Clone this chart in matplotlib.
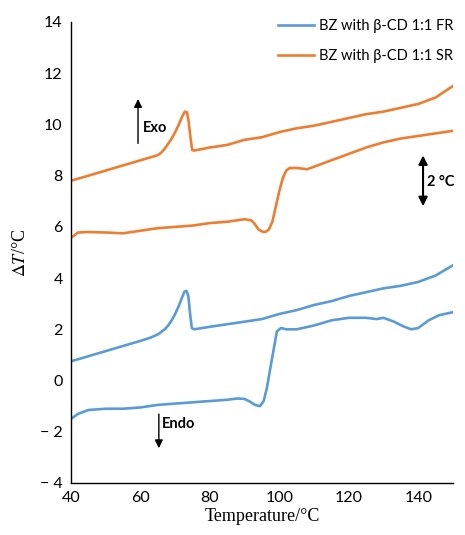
import matplotlib
matplotlib.use('Agg')
import matplotlib.pyplot as plt
import numpy as np

plt.rcParams['mathtext.fontset'] = 'stix'

# Data (temperature in degC, delta T in degC)
fr_upper_x = [40, 45, 50, 55, 60, 63, 65, 67, 68, 69, 70, 71, 72, 72.7, 73.3, 73.8, 74.3, 74.8,
              75.5, 80, 85, 90, 95, 100, 105, 110, 115, 120, 125, 130, 135, 140, 145, 150]
fr_upper_y = [0.75, 0.95, 1.15, 1.35, 1.55, 1.68, 1.8, 2.0, 2.15, 2.35, 2.6, 2.9, 3.25, 3.48,
              3.5, 3.3, 2.6, 2.05, 2.0, 2.1, 2.2, 2.3, 2.4, 2.6, 2.75, 2.95, 3.1, 3.3, 3.45, 3.6,
              3.7, 3.85, 4.1, 4.5]

fr_lower_x = [40, 42, 45, 50, 55, 60, 65, 70, 75, 80, 85, 88, 90, 91.5, 93, 94.4, 95.5, 96.4, 97.9,
              99.3, 100.5, 102, 105, 110, 115, 120, 125, 128, 130, 133, 136, 138, 140, 143, 146, 150]
fr_lower_y = [-1.5, -1.3, -1.15, -1.1, -1.1, -1.05, -0.95, -0.9, -0.85, -0.8, -0.75, -0.7, -0.72,
              -0.82, -0.95, -1.0, -0.8, -0.3, 0.86, 1.92, 2.05, 2.0, 2.0, 2.15, 2.35, 2.45, 2.45,
              2.4, 2.45, 2.3, 2.1, 2.0, 2.05, 2.35, 2.55, 2.67]

sr_upper_x = [40, 45, 50, 55, 60, 63, 65, 66, 67, 68, 69, 70, 71, 72, 72.8, 73.4, 73.9, 74.4,
              74.9, 75.5, 80, 85, 90, 95, 100, 105, 110, 115, 120, 125, 130, 135, 140, 145, 150]
sr_upper_y = [7.8, 8.0, 8.2, 8.4, 8.6, 8.72, 8.8, 8.9, 9.05, 9.25, 9.45, 9.7, 9.98, 10.3, 10.5,
              10.48, 10.1, 9.5, 9.0, 8.98, 9.1, 9.2, 9.4, 9.5, 9.7, 9.85, 9.95, 10.1, 10.25, 10.4,
              10.5, 10.65, 10.8, 11.05, 11.5]

sr_lower_x = [40, 42, 45, 50, 55, 60, 65, 70, 75, 80, 85, 90, 92, 93, 94, 95, 96, 97, 98, 99, 100,
              101, 102, 103, 105, 108, 110, 115, 120, 125, 130, 135, 140, 145, 150]
sr_lower_y = [5.57, 5.78, 5.8, 5.78, 5.75, 5.85, 5.95, 6.0, 6.05, 6.15, 6.2, 6.3, 6.25, 6.1, 5.9,
              5.82, 5.8, 5.9, 6.2, 6.8, 7.4, 7.9, 8.2, 8.3, 8.3, 8.25, 8.35, 8.6, 8.85, 9.1, 9.3,
              9.45, 9.55, 9.65, 9.75]

x_ticks = [40, 60, 80, 100, 120, 140]
y_ticks = [-4, -2, 0, 2, 4, 6, 8, 10, 12, 14]

blue = '#5B9BD5'
orange = '#ED7D31'

fig = plt.figure(figsize=(4.65, 5.35), dpi=100)
ax = fig.add_axes([0.1527, 0.0972, 0.8213, 0.8617])

ax.plot(fr_upper_x, fr_upper_y, color=blue, lw=1.9, label='BZ with β-CD 1:1 FR')
ax.plot(fr_lower_x, fr_lower_y, color=blue, lw=1.9)
ax.plot(sr_upper_x, sr_upper_y, color=orange, lw=1.9, label='BZ with β-CD 1:1 SR')
ax.plot(sr_lower_x, sr_lower_y, color=orange, lw=1.9)

ax.set_xlim(40, 150)
ax.set_ylim(-4, 14)
ax.set_xticks(x_ticks)
ax.set_xticklabels([str(t) for t in x_ticks], family='Lato', fontsize=11.5)
ax.set_yticks(y_ticks)
ax.set_yticklabels([('\u2212 ' + str(-t)) if t < 0 else str(t) for t in y_ticks],
                   family='Lato', fontsize=11.5)
ax.tick_params(length=0, pad=6)
for s in ['top', 'right']:
    ax.spines[s].set_visible(False)
for s in ['left', 'bottom']:
    ax.spines[s].set_linewidth(1.0)

ax.set_xlabel('Temperature/°C', family='Liberation Serif', fontsize=13, labelpad=2)
ax.set_ylabel(r'$\Delta\mathit{T}$/°C', family='Liberation Serif', fontsize=13, labelpad=8)

# annotations
ax.annotate('', xy=(59.3, 11.1), xytext=(59.3, 9.15),
            arrowprops=dict(arrowstyle='-|>', color='black', lw=1, mutation_scale=12))
ax.text(60.6, 9.85, 'Exo', family='Lato', fontweight='bold', fontsize=10.5, va='center')
ax.annotate('', xy=(65.3, -2.75), xytext=(65.3, -1.2),
            arrowprops=dict(arrowstyle='-|>', color='black', lw=1, mutation_scale=12))
ax.text(66.2, -1.7, 'Endo', family='Lato', fontweight='bold', fontsize=10.5, va='center')
ax.annotate('', xy=(141.4, 6.7), xytext=(141.4, 8.9),
            arrowprops=dict(arrowstyle='<|-|>', color='black', lw=1.5, mutation_scale=13))
ax.text(142.6, 7.75, '2 °C', family='Lato', fontweight='bold', fontsize=10.5, va='center')

ax.legend(loc='upper right', bbox_to_anchor=(1.035, 1.035), frameon=False,
          prop={'family': 'Lato', 'size': 10.5}, handlelength=2.5, handletextpad=0.3,
          labelspacing=1.1)

fig.savefig('out.png', dpi=100)
